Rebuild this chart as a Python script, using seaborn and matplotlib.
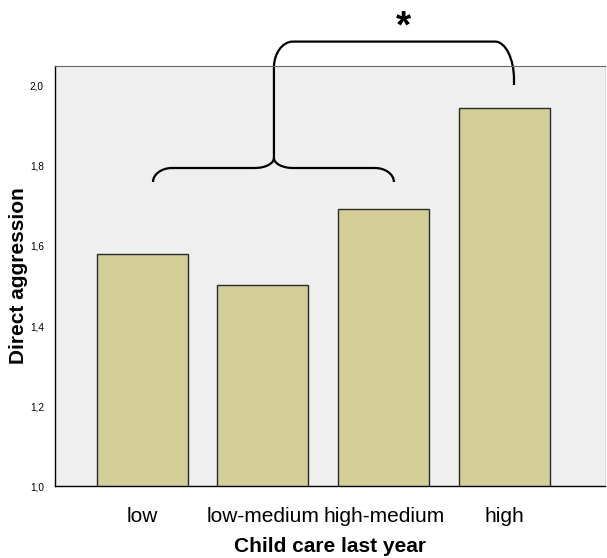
import numpy as np
import pandas as pd
import seaborn as sns
import matplotlib.pyplot as plt
from matplotlib.path import Path
from matplotlib.patches import PathPatch
from matplotlib.ticker import FuncFormatter

# Data
categories = ["low", "low-medium", "high-medium", "high"]
means = [1.58, 1.503, 1.693, 1.944]
y_ticks = [1.0, 1.2, 1.4, 1.6, 1.8, 2.0]

df = pd.DataFrame({"care": categories, "aggr": means})

sns.set_style("white")
plt.rcParams['font.family'] = ['Liberation Sans', 'DejaVu Sans']
plt.rcParams['text.color'] = 'black'
plt.rcParams['axes.labelcolor'] = 'black'
plt.rcParams['xtick.color'] = 'black'
plt.rcParams['ytick.color'] = 'black'

fig = plt.figure(figsize=(6.07, 5.58), dpi=100)
ax = fig.add_axes([55 / 607, 72 / 558, 550 / 607, 420 / 558])
ax.set_facecolor("#EFEFEF")

sns.barplot(data=df, x="care", y="aggr", color="#D3CE97", saturation=1,
            width=0.754, edgecolor="#2a2a2a", linewidth=1.0, ax=ax)

ax.set_ylim(1.0, 2.05)
ax.set_xlim(-0.723, 3.834)
ax.set_yticks(y_ticks)
ax.yaxis.set_major_formatter(FuncFormatter(lambda v, p: f"{v:.1f}".replace(".", ",")))
ax.tick_params(axis="y", labelsize=7.2, length=7, width=0.8, color="#333333", pad=1)
ax.tick_params(axis="x", labelsize=15, length=10, width=0.8, color="black", pad=5)
ax.set_xlabel("Child care last year", fontsize=15, fontweight="bold", labelpad=8)
ax.set_ylabel("Direct aggression", fontsize=15, fontweight="bold", labelpad=1)

for side in ["left", "bottom"]:
    ax.spines[side].set_color("black")
    ax.spines[side].set_linewidth(1.0)
ax.spines["top"].set_color("#666666")
ax.spines["right"].set_color("#DDDDDD")

# Braces (annotation geometry in data units; 1 px ~ 0.0083 in x, 0.0025 in y)
rx = 0.157
k = 0.55
x0, xm, x2, x1 = 0.089, 1.091, 2.085, 3.08
yb, yh, yc = 1.76, 1.795, 1.82
ytop, yend = 2.111, 2.0025
ry_end, ry_cusp = yh - yb, yc - yh
ry_left, ry_right = 0.065, 0.095

small = Path(
    [(x0, yb), (x0, yb + ry_end * k), (x0 + rx * (1 - k), yh), (x0 + rx, yh),
     (xm - rx, yh), (xm - rx * (1 - k), yh), (xm, yc - ry_cusp * k), (xm, yc),
     (xm, yc - ry_cusp * k), (xm + rx * (1 - k), yh), (xm + rx, yh),
     (x2 - rx, yh), (x2 - rx * (1 - k), yh), (x2, yb + ry_end * k), (x2, yb)],
    [Path.MOVETO, Path.CURVE4, Path.CURVE4, Path.CURVE4,
     Path.LINETO, Path.CURVE4, Path.CURVE4, Path.CURVE4,
     Path.CURVE4, Path.CURVE4, Path.CURVE4,
     Path.LINETO, Path.CURVE4, Path.CURVE4, Path.CURVE4])
big = Path(
    [(xm, yc), (xm, ytop - ry_left),
     (xm, ytop - ry_left * (1 - k)), (xm + rx * (1 - k), ytop), (xm + rx, ytop),
     (x1 - rx, ytop),
     (x1 - rx * (1 - k), ytop), (x1, ytop - ry_right * (1 - k)), (x1, ytop - ry_right),
     (x1, yend)],
    [Path.MOVETO, Path.LINETO, Path.CURVE4, Path.CURVE4, Path.CURVE4,
     Path.LINETO, Path.CURVE4, Path.CURVE4, Path.CURVE4,
     Path.LINETO])
for p in [small, big]:
    ax.add_patch(PathPatch(p, facecolor="none", edgecolor="black", lw=1.6,
                           clip_on=False, capstyle="butt"))

ax.text(2.168, 2.122, "*", fontsize=28, fontweight="bold", ha="center", va="baseline",
        clip_on=False)

fig.savefig("out.png", dpi=100)
